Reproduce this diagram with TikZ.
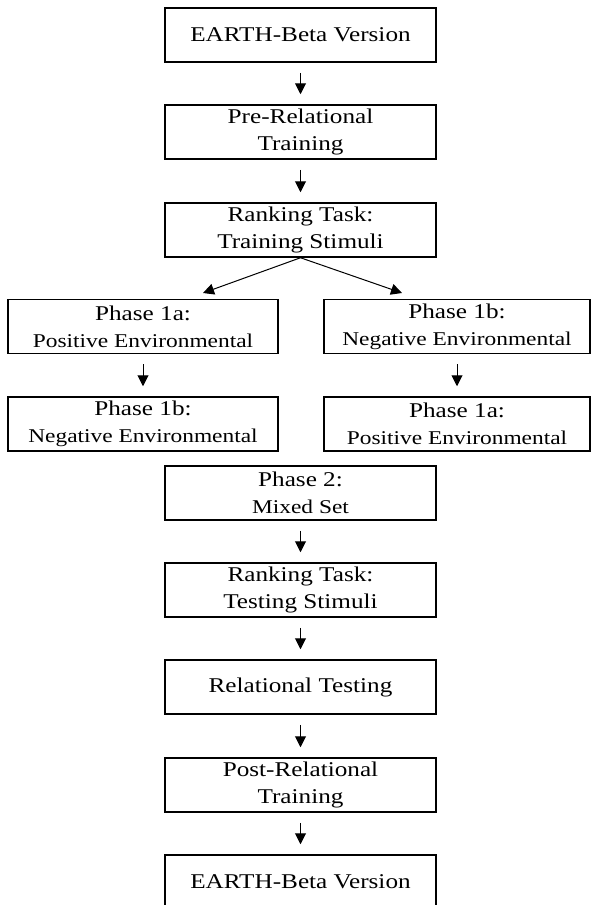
\documentclass[tikz,border=0pt]{standalone}
\usepackage{fontspec}
\setmainfont[FakeStretch=1.2]{Liberation Serif}
\usetikzlibrary{arrows.meta}
\newcommand\subline{\fontsize{19.5}{25}\selectfont}
\begin{document}
\begin{tikzpicture}[x=1pt,y=-1pt,
  stagebox/.style={draw,line width=1.5pt,minimum width=271pt,minimum height=54pt,inner sep=0pt,align=center,font=\fontsize{21}{27}\selectfont},
  flow/.style={line width=1pt,-{Triangle[length=11pt,width=11pt]}},
  gap/.style={shorten <=10pt,shorten >=10pt}]
\useasboundingbox (0,0) rectangle (592,905);
\node[stagebox] (s1) at (300.5,35) {EARTH-Beta Version};
\node[stagebox] (s2) at (300.5,132) {Pre-Relational\\Training};
\node[stagebox] (s3) at (300.5,230) {Ranking Task:\\Training Stimuli};
\node[stagebox,minimum width=270pt] (p1a) at (143,326.5) {Phase 1a:\\\subline Positive Environmental};
\node[stagebox,minimum width=270pt] (p1b) at (143,424) {Phase 1b:\\\subline Negative Environmental};
\node[stagebox,minimum width=266pt] (q1b) at (457,326.5) {Phase 1b:\\\subline Negative Environmental};
\node[stagebox,minimum width=266pt] (q1a) at (457,424) {Phase 1a:\\\subline Positive Environmental};
\node[stagebox] (s4) at (300.5,493) {Phase 2:\\\subline Mixed Set};
\node[stagebox] (s5) at (300.5,590) {Ranking Task:\\Testing Stimuli};
\node[stagebox] (s6) at (300.5,687) {Relational Testing};
\node[stagebox] (s7) at (300.5,785) {Post-Relational\\Training};
\node[stagebox] (s8) at (300.5,882) {EARTH-Beta Version};
\coordinate (tipl) at (203,293);
\coordinate (tipr) at (402,293);
\draw[flow,gap] (s1) -- (s2);
\draw[flow,gap] (s2) -- (s3);
\draw[flow] (s3.south) -- (tipl);
\draw[flow] (s3.south) -- (tipr);
\draw[flow,gap] (p1a) -- (p1b);
\draw[flow,gap] (q1b) -- (q1a);
\draw[flow,gap] (s4) -- (s5);
\draw[flow,gap] (s5) -- (s6);
\draw[flow,gap] (s6) -- (s7);
\draw[flow,gap] (s7) -- (s8);
\end{tikzpicture}
\end{document}
